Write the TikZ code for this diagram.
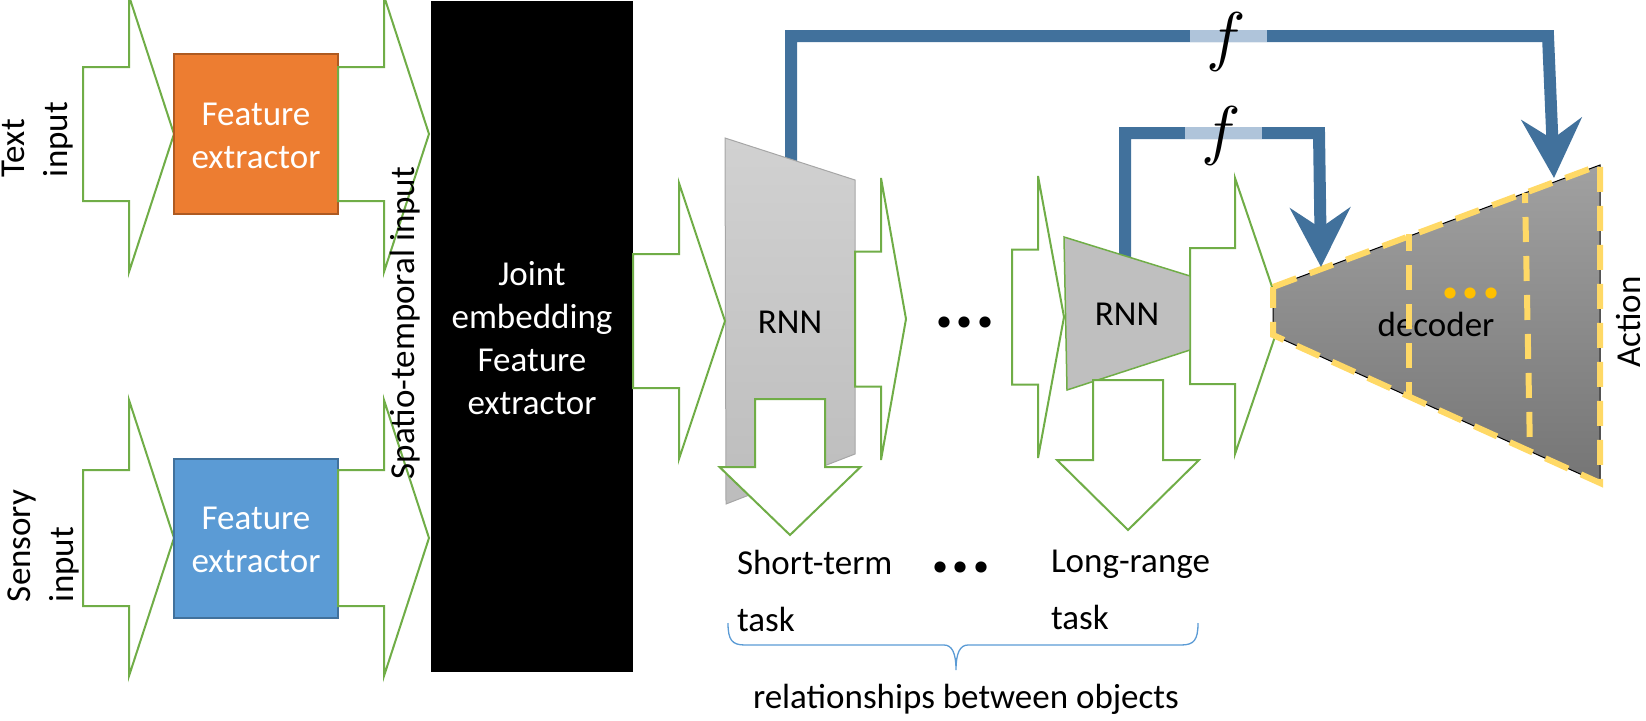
\documentclass[tikz,border=0pt]{standalone}
\usepackage{fontspec}
\setmainfont{Carlito}
\usetikzlibrary{arrows.meta}

\definecolor{grn}{HTML}{70AD47}
\definecolor{orng}{HTML}{ED7D31}
\definecolor{orngdk}{HTML}{AE5A21}
\definecolor{bluebox}{HTML}{5B9BD5}
\definecolor{blueboxdk}{HTML}{41719C}
\definecolor{linkblue}{HTML}{41719C}
\definecolor{linklight}{HTML}{AFC4DA}
\definecolor{gold}{HTML}{FFD966}
\definecolor{amber}{HTML}{FFC000}
\definecolor{bracecol}{HTML}{5B9BD5}

\tikzset{
  blockarrow/.style={draw=grn, line width=2pt, fill=white, line join=miter},
  lbl/.style={inner sep=0pt, outer sep=0pt, font=\fontsize{35}{43}\selectfont},
  tasklbl/.style={lbl, align=left, font=\fontsize{35}{57}\selectfont},
  extractor/.style={lbl, align=center, text=white},
  link/.style={draw=linkblue, line width=12pt, line join=miter,
    -{Stealth[length=59pt, width=60pt, inset=20pt]}},
  linkfade/.style={draw=linklight, line width=12pt},
  dots/.style={inner sep=0pt, font=\fontsize{75}{75}\selectfont\bfseries},
  yellowdash/.style={draw=gold, line width=6pt, dash pattern=on 25pt off 14pt},
}

% right-pointing block arrow: body left, head base, tip, centre y, half body, half head
\newcommand\rightblock[6]{%
  \path[blockarrow] (#1,#4-#5) -- (#2,#4-#5) -- (#2,#4-#6) -- (#3,#4)
    -- (#2,#4+#6) -- (#2,#4+#5) -- (#1,#4+#5) -- cycle;}
% down-pointing block arrow: centre x, half body, half head, body top, head base, tip
\newcommand\downblock[6]{%
  \path[blockarrow] (#1-#2,#4) -- (#1+#2,#4) -- (#1+#2,#5) -- (#1+#3,#5)
    -- (#1,#6) -- (#1-#3,#5) -- (#1-#2,#5) -- cycle;}

\begin{document}
\begin{tikzpicture}[x=1pt, y=-1pt]
\useasboundingbox (0,0) rectangle (1646,720);

% ---------- input branches ----------
\rightblock{83}{129}{174}{134}{67}{138}
\node[draw=orngdk, fill=orng, line width=2pt, minimum width=164pt, minimum height=160pt,
      inner sep=0pt] (fetext) at (256,134) {};
\node[extractor] (fetextlbl) at (256,135.5) {Feature\\extractor};
\rightblock{338}{384}{429}{134}{67}{138}

\rightblock{83}{129}{174}{538}{68}{138}
\node[draw=blueboxdk, fill=bluebox, line width=2pt, minimum width=164pt, minimum height=159pt,
      inner sep=0pt] (fesens) at (256,538.5) {};
\node[extractor] (fesenslbl) at (256,540) {Feature\\extractor};
\rightblock{338}{384}{429}{538}{68}{138}

\node[lbl, rotate=90, anchor=north west, align=left] (textin) at (2,177) {Text\\input};
\node[lbl, rotate=90, anchor=north west, align=left] (sensin) at (8,602) {Sensory\\input};

% ---------- joint embedding ----------
\node[fill=black, minimum width=202pt, minimum height=671pt, inner sep=0pt] (joint) at (532,336.5) {};
\node[extractor] (jointlbl) at (532,337.75) {Joint\\embedding\\Feature\\extractor};
\node[lbl, rotate=90, anchor=base] (spatio) at (414,323) {Spatio-temporal input};

% ---------- decoder ----------
\rightblock{1190}{1235}{1282}{316}{68}{138}
\coordinate (dl1) at (1273,287);
\coordinate (dr1) at (1600,165);
\coordinate (dr2) at (1600,483);
\coordinate (dl2) at (1273,335);
\path[top color=black!37, bottom color=black!54, draw=black, line width=1pt]
  (dl1) -- (dr1) -- (dr2) -- (dl2) -- cycle;
\node[lbl, anchor=base] (declbl) at (1436,336) {decoder};
\path[yellowdash] (dl1) -- (dr1) -- (dr2) -- (dl2) -- cycle;
\path[yellowdash, dash phase=8pt] (1409,234) -- (1409,398);
\path[yellowdash, dash phase=15pt] (1525,193) -- (1530,451);
\node[dots, text=amber, anchor=base] (decdots) at (1471,298) {...};
\node[lbl, rotate=90, anchor=base] (action) at (1640,322) {Action};

% ---------- skip connections ----------
\coordinate (r1top) at (791,166);
\coordinate (r1up) at (791,36);
\coordinate (farcorner) at (1548,36);
\coordinate (farhit) at (1554,178);
\coordinate (r2top) at (1125,262);
\coordinate (r2up) at (1125,133);
\coordinate (nearcorner) at (1319,133);
\coordinate (nearhit) at (1321,267);
\draw[link] (r1top) -- (r1up) -- (farcorner) -- (farhit);
\draw[link] (r2top) -- (r2up) -- (nearcorner) -- (nearhit);
\draw[linkfade] (1190,36) -- (1267,36);
\draw[linkfade] (1185,133) -- (1262,133);
\node[scale=6.6, inner sep=0pt, anchor=base] (f1) at (1226,58) {$f$};
\node[scale=6.6, inner sep=0pt, anchor=base] (f2) at (1221,152) {$f$};

% ---------- recurrent blocks ----------
\path[top color=black!18, bottom color=black!26, draw=black!35, line width=1pt]
  (725,138) -- (855,180) -- (855,454) -- (726,504) -- cycle;
\path[fill=black!25, draw=grn, line width=1.5pt]
  (1064,237) -- (1190,276) -- (1190,350) -- (1067,390) -- cycle;

\rightblock{633}{679}{725}{321}{67}{138}
\downblock{790}{35}{70.5}{399}{467}{535}
\rightblock{855}{881}{906}{319}{67.5}{141}
\rightblock{1012}{1038}{1064}{317}{67.5}{141}
\downblock{1128}{35}{71}{380}{460}{530}

\node[lbl, anchor=base] (rnn1) at (790,333) {RNN};
\node[lbl, anchor=base] (rnn2) at (1127,325) {RNN};
\node[dots, anchor=base] (midots) at (965,327) {...};

% ---------- task outputs ----------
\node[tasklbl, anchor=north west] (short) at (737,550) {Short-term\\task};
\node[dots, anchor=base] (taskdots) at (961,572) {...};
\node[tasklbl, anchor=north west] (long) at (1051,550) {Long-range\\task};
\draw[bracecol, line width=1.3pt]
  (728,623) .. controls (728,640) and (732,645) .. (745,645) -- (944,645)
  .. controls (952,645) and (956,653) .. (956,670)
  .. controls (956,653) and (960,645) .. (968,645) -- (1181,645)
  .. controls (1194,645) and (1198,640) .. (1198,623);
\node[lbl, anchor=base] (relations) at (966,708) {relationships between objects};
\end{tikzpicture}
\end{document}
